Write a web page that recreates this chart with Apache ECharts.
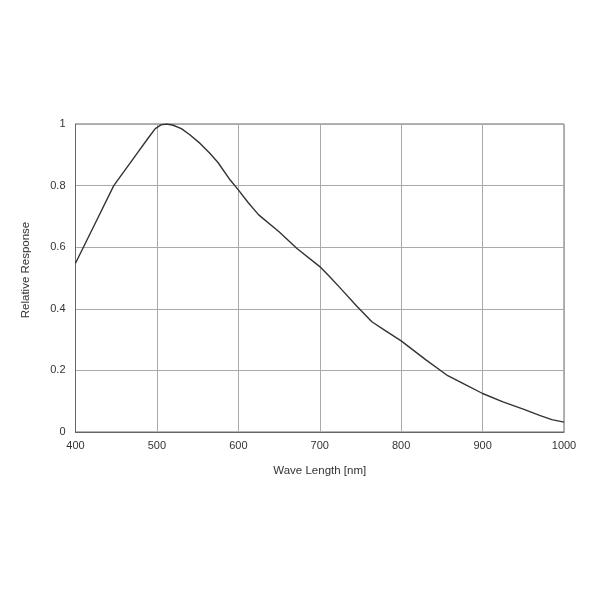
<!DOCTYPE html>
<html><head><meta charset="utf-8">
<script src="https://cdn.jsdelivr.net/npm/echarts@6/dist/echarts.min.js"></script>
<style>html,body{margin:0;padding:0;background:#fff}#c{width:600px;height:600px}</style>
</head><body><div id="c"></div>
<script>
const wavelengths = [400, 425, 447, 475, 490, 498, 505, 512, 520, 530, 540, 553, 565, 575, 590, 600, 612, 625, 650, 672, 700, 712, 725, 745, 764, 780, 800, 830, 856, 880, 900, 925, 950, 970, 985, 1000];
const response = [0.548, 0.682, 0.80, 0.902, 0.957, 0.985, 0.997, 1.0, 0.996, 0.985, 0.966, 0.937, 0.905, 0.875, 0.818, 0.786, 0.745, 0.705, 0.65, 0.596, 0.537, 0.505, 0.468, 0.41, 0.358, 0.33, 0.296, 0.235, 0.185, 0.152, 0.125, 0.098, 0.074, 0.054, 0.040, 0.032];
const xTicks = ['400', '500', '600', '700', '800', '900', '1000'];
const yTicks = ['0', '0.2', '0.4', '0.6', '0.8', '1'];
const chart = echarts.init(document.getElementById('c'));
const font = 'Liberation Sans, Arial, sans-serif';
chart.setOption({
  animation: false,
  backgroundColor: '#fff',
  grid: {left: 75.5, right: 36, top: 124, bottom: 168, show: true, borderColor: '#666', borderWidth: 1},
  xAxis: {
    type: 'value', min: 400, max: 1000, interval: 100,
    name: 'Wave Length [nm]', nameLocation: 'middle', nameGap: 33,
    nameTextStyle: {color: '#333', fontSize: 11.5, fontFamily: font},
    axisLine: {show: true, lineStyle: {color: '#666'}},
    axisTick: {show: false},
    axisLabel: {color: '#333', fontSize: 11, fontFamily: font, margin: 8,
      formatter: v => xTicks[Math.round((v - 400) / 100)]},
    splitLine: {show: true, lineStyle: {color: '#aaa', width: 1}}
  },
  yAxis: {
    type: 'value', min: 0, max: 1, interval: 0.2,
    name: 'Relative Response', nameLocation: 'middle', nameGap: 44,
    nameTextStyle: {color: '#333', fontSize: 11.5, fontFamily: font, padding: [0, 0, 0, 16]},
    axisLine: {show: true, lineStyle: {color: '#666'}},
    axisTick: {show: false},
    axisLabel: {color: '#333', fontSize: 11, fontFamily: font, margin: 10,
      formatter: v => yTicks[Math.round(v / 0.2)]},
    splitLine: {show: true, lineStyle: {color: '#aaa', width: 1}}
  },
  series: [{
    type: 'line', data: wavelengths.map((w, i) => [w, response[i]]),
    showSymbol: false, smooth: false,
    lineStyle: {color: '#333', width: 1.4}
  }]
});
</script></body></html>
